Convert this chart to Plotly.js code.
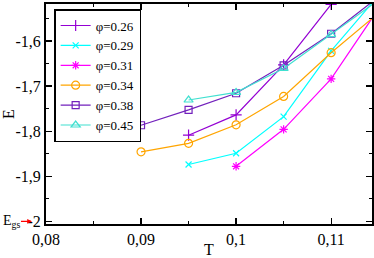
<!DOCTYPE html>
<html>
<head>
<meta charset="utf-8">
<script src="https://cdn.plot.ly/plotly-3.0.1.min.js"></script>
<style>html,body{margin:0;padding:0;background:#fff;}#plot{width:374px;height:258px;}</style>
</head>
<body>
<div id="plot"></div>
<script>
// Data
const T_026 = [0.095, 0.1, 0.105, 0.11];
const E_026 = [-1.809, -1.764, -1.653, -1.519];
const T_029 = [0.095, 0.1, 0.105, 0.11, 0.115];
const E_029 = [-1.874, -1.849, -1.768, -1.622, -1.499];
const T_031 = [0.1, 0.105, 0.11, 0.115];
const E_031 = [-1.878, -1.796, -1.684, -1.528];
const T_034 = [0.09, 0.095, 0.1, 0.105, 0.11, 0.115];
const E_034 = [-1.846, -1.827, -1.786, -1.723, -1.626, -1.538];
const T_038 = [0.09, 0.095, 0.1, 0.105, 0.11, 0.115];
const E_038 = [-1.787, -1.753, -1.716, -1.654, -1.584, -1.502];
const T_045 = [0.095, 0.1, 0.105, 0.11, 0.115];
const E_045 = [-1.731, -1.714, -1.661, -1.586, -1.509];

const seriesNames = ['φ=0.26', 'φ=0.29', 'φ=0.31', 'φ=0.34', 'φ=0.38', 'φ=0.45'];
const xTickVals = [0.08, 0.09, 0.1, 0.11];
const xTickText = ['0,08', '0,09', '0,1', '0,11'];
const yTickVals = [-2, -1.9, -1.8, -1.7, -1.6];
const yTickText = ['-2', '-1,9', '-1,8', '-1,7', '-1,6'];
const E_gs = -2;

const FONT = '"Liberation Serif", "Times New Roman", Times, "DejaVu Serif", serif';
const colors = ['rgb(148,0,211)', 'rgb(0,255,255)', 'rgb(255,0,255)', 'rgb(255,165,0)', 'rgb(114,33,188)', 'rgb(64,224,208)'];
const symbols = ['cross-thin-open', 'x-thin-open', 'asterisk-open', 'circle-open', 'square-open', 'triangle-up-open'];
const sizes = [8, 6, 7, 8, 7, 8];
const xs = [T_026, T_029, T_031, T_034, T_038, T_045];
const ys = [E_026, E_029, E_031, E_034, E_038, E_045];

const traces = xs.map((x, i) => ({
  x: x, y: ys[i], name: seriesNames[i], type: 'scatter', mode: 'lines+markers',
  line: {color: colors[i], width: 1.2},
  marker: {symbol: symbols[i], size: sizes[i], color: colors[i], line: {color: colors[i], width: 1.2}}
}));

const axisCommon = {
  showgrid: false, zeroline: false, showline: true, linecolor: '#000', linewidth: 2,
  mirror: 'allticks', ticks: 'inside', ticklen: 6, tickwidth: 1.2, tickcolor: '#000',
  tickfont: {family: FONT, size: 16, color: '#000'}
};

const layout = {
  width: 374, height: 258,
  margin: {l: 46, r: 2, t: 4, b: 34},
  paper_bgcolor: '#fff', plot_bgcolor: '#fff',
  font: {family: FONT},
  showlegend: true,
  legend: {
    x: 0.025, y: 0.977, xanchor: 'left', yanchor: 'top',
    bordercolor: '#000', borderwidth: 1.5, bgcolor: '#fff',
    font: {family: FONT, size: 13, color: '#000'},
    tracegroupgap: 0, itemwidth: 30
  },
  xaxis: Object.assign({}, axisCommon, {
    range: [0.08, 0.1143],
    tickmode: 'array', tickvals: xTickVals, ticktext: xTickText,
    minor: {dtick: 0.005, tick0: 0.08, ticks: 'inside', ticklen: 3, tickcolor: '#000', tickwidth: 1},
    title: {text: 'T', font: {family: FONT, size: 16, color: '#000'}, standoff: 2}
  }),
  yaxis: Object.assign({}, axisCommon, {
    range: [-2.006, -1.518],
    tickmode: 'array', tickvals: yTickVals, ticktext: yTickText,
    minor: {dtick: 0.05, tick0: -2, ticks: 'inside', ticklen: 3, tickcolor: '#000', tickwidth: 1},
    title: {text: 'E', font: {family: FONT, size: 16, color: '#000'}, standoff: 10}
  }),
  annotations: [
    {xref: 'paper', yref: 'y', x: -0.043, y: E_gs, ax: -20, ay: 0,
     text: 'E<sub>gs</sub>', showarrow: true, arrowcolor: 'red', arrowwidth: 1.2,
     arrowhead: 2, arrowsize: 0.8, borderpad: 0,
     font: {family: FONT, size: 14, color: '#000'}}
  ]
};

Plotly.newPlot('plot', traces, layout, {displayModeBar: false, staticPlot: true});
</script>
</body>
</html>
